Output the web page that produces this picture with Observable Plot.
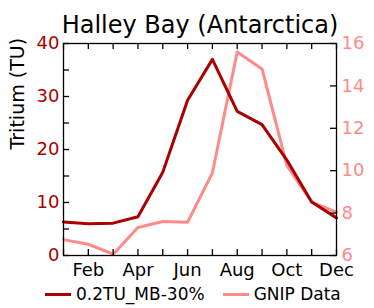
<!DOCTYPE html>
<html><head><meta charset="utf-8">
<script src="https://cdn.jsdelivr.net/npm/d3@7"></script>
<script src="https://cdn.jsdelivr.net/npm/@observablehq/plot@0.6"></script>
<style>
body{margin:0;background:#fff;font-family:"DejaVu Sans",sans-serif;}
#wrap{position:relative;width:374px;height:308px;overflow:hidden;}
#chart{position:absolute;left:0;top:0;}
#chart svg{font-family:"DejaVu Sans",sans-serif;}
#legend{position:absolute;left:45px;top:284px;display:flex;align-items:center;font-size:17px;color:#000;white-space:nowrap;}
.sw{display:inline-block;width:26px;height:0;border-top:3px solid;margin-right:5px;}
.item{display:flex;align-items:center;margin-right:18px;}
</style></head>
<body><div id="wrap"><div id="chart"></div><div id="legend"></div></div>
<script>
const title = "Halley Bay (Antarctica)";
const yLabel = "Tritium (TU)";
const months = [1,2,3,4,5,6,7,8,9,10,11,12];
const monthNames = ["Jan","Feb","Mar","Apr","May","Jun","Jul","Aug","Sep","Oct","Nov","Dec"];
const xLabelMonths = [2,4,6,8,10,12];
const modelName = "0.2TU_MB-30%";
const modelValues = [6.3,6.0,6.1,7.3,15.7,29.3,37.0,27.2,24.7,18.0,10.1,7.1];
const gnipName = "GNIP Data";
const gnipValues = [6.75,6.53,6.06,7.32,7.6,7.57,9.9,15.6,14.8,10.25,8.52,8.05];
const leftTicks = [0,5,10,15,20,25,30,35,40];
const leftLabels = [0,10,20,30,40];
const rightTicks = [6,8,10,12,14,16];
const rightDomain = [6,16];
const leftDomain = [0,40];

const darkC = "#aa0000", pinkC = "#ff8a8a";
const toLeft = v => (v - rightDomain[0]) / (rightDomain[1]-rightDomain[0]) * (leftDomain[1]-leftDomain[0]) + leftDomain[0];
const toRight = v => (v - leftDomain[0]) / (leftDomain[1]-leftDomain[0]) * (rightDomain[1]-rightDomain[0]) + rightDomain[0];

const model = months.map((m,i)=>({m, v: modelValues[i]}));
const gnip = months.map((m,i)=>({m, v: toLeft(gnipValues[i])}));

const W = 374, H = 280, mL = 63, mR = 38, mT = 43, mB = 25;
const fw = W - mL - mR, fh = H - mT - mB, tl = 6;

const plot = Plot.plot({
  width: W, height: H,
  marginLeft: mL, marginRight: mR, marginTop: mT, marginBottom: mB,
  x: {type: "linear", domain: [1,12], axis: null},
  y: {domain: leftDomain, axis: null},
  marks: [
    Plot.line(gnip, {x: "m", y: "v", stroke: pinkC, strokeWidth: 3}),
    Plot.line(model, {x: "m", y: "v", stroke: darkC, strokeWidth: 3}),
    Plot.axisY({anchor: "left", ticks: leftLabels, tickSize: 0, tickPadding: 4, fontSize: 18, color: darkC, label: null}),
    Plot.axisY({anchor: "right", ticks: rightTicks.map(toLeft), tickSize: 0, tickPadding: 5, fontSize: 18, color: pinkC, tickFormat: d => Math.round(toRight(d)), label: null}),
    Plot.axisX({anchor: "bottom", ticks: xLabelMonths, tickSize: 0, tickPadding: 8, fontSize: 18, color: "#000", tickFormat: d => monthNames[d-1], label: null}),
    Plot.frame({stroke: "#000", strokeWidth: 1.3}),
    Plot.text([yLabel], {frameAnchor: "left", dx: -46, rotate: -90, fontSize: 19, fill: "#000", text: d => d}),
    Plot.text([title], {frameAnchor: "top", dy: -28, fontSize: 24, fill: "#000", text: d => d}),
    // inward ticks on all four sides
    Plot.tickY(leftTicks, {y: d => d, insetRight: fw - tl, stroke: "#000", strokeWidth: 1.3}),
    Plot.tickY(rightTicks.map(toLeft), {y: d => d, insetLeft: fw - tl, stroke: "#000", strokeWidth: 1.3}),
    Plot.tickX(months, {x: d => d, insetTop: fh - tl, stroke: "#000", strokeWidth: 1.3}),
    Plot.tickX(months, {x: d => d, insetBottom: fh - tl, stroke: "#000", strokeWidth: 1.3})
  ]
});
document.getElementById("chart").appendChild(plot);

const legend = document.getElementById("legend");
[[modelName, darkC],[gnipName, pinkC]].forEach(([n,c])=>{
  const it = document.createElement("span"); it.className = "item";
  const sw = document.createElement("span"); sw.className = "sw"; sw.style.borderColor = c;
  const tx = document.createElement("span"); tx.textContent = n;
  it.appendChild(sw); it.appendChild(tx); legend.appendChild(it);
});
</script></body></html>
